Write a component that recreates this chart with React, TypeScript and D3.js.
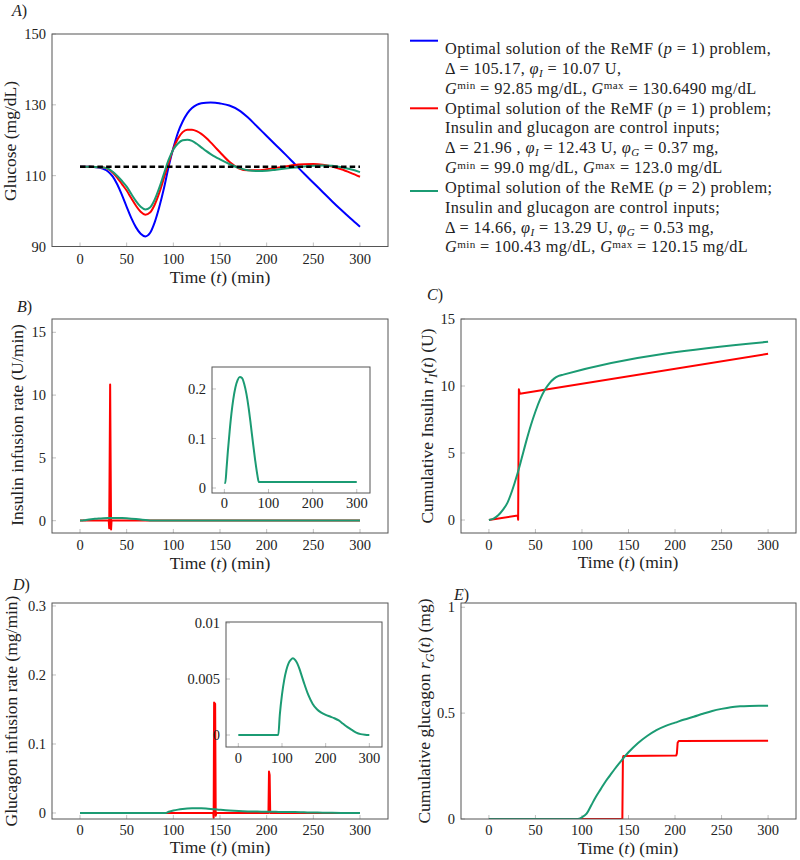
import React from 'react';
import * as d3 from 'd3';

const FONT = '"Liberation Serif", "Times New Roman", serif';
const BLUE = '#0000ff';
const RED = '#ff0000';
const GREEN = '#1b9b73';

// ---------- Panel A : glucose ----------
const timeGlucose = [0, 10, 20, 25, 30, 35, 40, 45, 50, 55, 60, 65, 70, 75, 80, 85, 90, 95, 100, 105, 110, 115, 120, 125, 130, 135, 140, 145, 150, 160, 170, 180, 190, 200, 210, 220, 230, 240, 250, 260, 270, 280, 290, 300];
const glucoseBlue = [112.5, 112.5, 112.3, 111.9, 111.2, 109.8, 107.5, 104.5, 101.2, 98.0, 95.4, 93.6, 92.85, 93.8, 96.8, 101.2, 106.5, 112.6, 117.8, 122.2, 125.3, 127.6, 129.1, 130.0, 130.45, 130.62, 130.65, 130.6, 130.4, 129.8, 128.5, 126.4, 123.8, 121.2, 118.6, 116.0, 113.3, 110.6, 108.0, 105.4, 102.8, 100.3, 97.9, 95.6];
const glucoseRed = [112.5, 112.5, 112.4, 112.3, 111.9, 110.9, 109.4, 107.6, 105.8, 103.6, 101.5, 99.8, 99.0, 99.6, 101.8, 105.2, 109.4, 113.6, 117.6, 120.5, 122.3, 123.0, 123.0, 122.6, 121.8, 120.7, 119.4, 118.0, 116.6, 113.9, 112.1, 111.5, 111.5, 111.8, 112.2, 112.6, 113.0, 113.2, 113.3, 113.1, 112.6, 111.8, 110.8, 109.7];
const glucoseGreen = [112.5, 112.5, 112.4, 112.3, 112.0, 111.1, 109.9, 108.5, 106.9, 104.8, 102.8, 101.2, 100.45, 101.0, 103.2, 106.6, 110.6, 114.5, 117.4, 119.1, 120.0, 120.15, 119.8, 119.0, 118.0, 117.0, 116.1, 115.3, 114.6, 113.3, 112.2, 111.5, 111.3, 111.4, 111.7, 112.0, 112.3, 112.6, 112.8, 112.9, 112.8, 112.4, 111.8, 111.0];
const timeReference = [0, 300];
const glucoseReference = [112.5, 112.5];

// ---------- Panel B : insulin infusion rate ----------
const timeInsulinRed = [0, 30.8, 31.3, 32.3, 33.3, 33.8, 300];
const insulinRateRed = [0.011, 0.011, -0.6, 10.85, -0.7, 0.011, 0.011];
const timeInsulinGreen = [0, 2, 5, 8, 12, 16, 20, 25, 30, 35, 40, 45, 50, 55, 60, 65, 70, 75, 78, 300];
const insulinRateGreen = [0.01, 0.01, 0.04, 0.075, 0.115, 0.15, 0.178, 0.203, 0.218, 0.224, 0.222, 0.21, 0.19, 0.162, 0.127, 0.09, 0.055, 0.025, 0.012, 0.012];

// ---------- Panel C : cumulative insulin ----------
const timeCumInsulinRed = [0, 31, 31.4, 32.2, 33.2, 300];
const cumInsulinRed = [0, 0.33, 0.02, 9.75, 9.42, 12.4];
const timeCumInsulinGreen = [0, 5, 10, 15, 20, 25, 30, 35, 40, 45, 50, 55, 60, 65, 70, 75, 80, 300];
const cumInsulinGreen = [0, 0.1, 0.35, 0.75, 1.3, 2.2, 3.3, 4.55, 5.85, 7.05, 8.1, 9.0, 9.7, 10.2, 10.55, 10.75, 10.85, 13.3];

// ---------- Panel D : glucagon infusion rate ----------
const timeGlucagonRed = [0, 142.8, 143.2, 143.7, 144.8, 145.4, 146, 201.9, 202.5, 203.2, 203.8, 300];
const glucagonRateRed = [0, 0, -0.007, 0.16, 0.158, -0.004, 0, 0, 0.06, 0.055, 0, 0];
const timeGlucagonGreen = [0, 91.5, 95, 100, 105, 110, 115, 120, 125, 130, 135, 140, 145, 150, 160, 170, 180, 190, 200, 210, 220, 230, 240, 250, 260, 270, 280, 290, 300];
const glucagonRateGreen = [0, 0, 0.0018, 0.0036, 0.0049, 0.0058, 0.0064, 0.0067, 0.00685, 0.0067, 0.0064, 0.0059, 0.0053, 0.0047, 0.0036, 0.0028, 0.0023, 0.002, 0.0018, 0.00165, 0.0015, 0.0013, 0.001, 0.0007, 0.00045, 0.00022, 0.00008, 0.00002, 0];

// ---------- Panel E : cumulative glucagon ----------
const timeCumGlucagonRed = [0, 143.4, 144.0, 144.6, 201.3, 202.0, 202.8, 204, 300];
const cumGlucagonRed = [0, 0, 0.29, 0.298, 0.3, 0.31, 0.36, 0.368, 0.369];
const timeCumGlucagonGreen = [0, 95, 100, 105, 110, 115, 120, 125, 130, 135, 140, 145, 150, 160, 170, 180, 190, 200, 210, 220, 230, 240, 250, 260, 270, 280, 290, 300];
const cumGlucagonGreen = [0, 0, 0.008, 0.025, 0.065, 0.105, 0.14, 0.175, 0.205, 0.235, 0.263, 0.29, 0.315, 0.358, 0.392, 0.42, 0.44, 0.455, 0.47, 0.483, 0.497, 0.51, 0.52, 0.528, 0.532, 0.534, 0.535, 0.535];

// ---------- ticks ----------
const timeTicks = [0, 50, 100, 150, 200, 250, 300];
const insetTimeTicks = [0, 100, 200, 300];
const glucoseTicks = [90, 110, 130, 150];
const insulinTicks = [0, 5, 10, 15];
const insetInsulinTicks = [0, 0.1, 0.2];
const glucagonTicks = [0, 0.1, 0.2, 0.3];
const insetGlucagonTicks = [0, 0.005, 0.01];
const insetGlucagonTickLabels = ['0', '0.005', '0.01'];
const cumGlucagonTicks = [0, 0.5, 1];

type Series = { t: number[]; v: number[]; color: string; width?: number; dash?: string; smooth?: boolean };

type PanelProps = {
  id: string;
  left: number; right: number; top: number; bottom: number;
  xDomain: [number, number]; yDomain: [number, number];
  xTicks: number[]; yTicks: number[]; yTickLabels?: string[];
  series: Series[];
  xLabelGap: number;
};

const TICK_FS = 14.5;
const TITLE_FS = 17.5;

function Panel(p: PanelProps) {
  const x = d3.scaleLinear().domain(p.xDomain).range([p.left, p.right]);
  const y = d3.scaleLinear().domain(p.yDomain).range([p.bottom, p.top]);
  return (
    <g>
      <defs>
        <clipPath id={`clip-${p.id}`}>
          <rect x={p.left} y={p.top} width={p.right - p.left} height={p.bottom - p.top} />
        </clipPath>
      </defs>
      <rect x={p.left} y={p.top} width={p.right - p.left} height={p.bottom - p.top} fill="#fff" />
      {p.xTicks.map((t) => (
        <line key={`xt${t}`} x1={x(t)} x2={x(t)} y1={p.bottom} y2={p.bottom - 4} stroke="#b0b0b0" strokeWidth={0.8} />
      ))}
      {p.yTicks.map((t) => (
        <line key={`yt${t}`} x1={p.left} x2={p.left + 4} y1={y(t)} y2={y(t)} stroke="#b0b0b0" strokeWidth={0.8} />
      ))}
      <g clipPath={`url(#clip-${p.id})`}>
        {p.series.map((s, i) => {
          const line = d3
            .line<number>()
            .x((_, j) => x(s.t[j]))
            .y((d) => y(d))
            .curve(s.smooth ? d3.curveMonotoneX : d3.curveLinear);
          return (
            <path
              key={i}
              d={line(s.v) || ''}
              fill="none"
              stroke={s.color}
              strokeWidth={s.width ?? 2}
              strokeDasharray={s.dash}
              strokeLinejoin="round"
            />
          );
        })}
      </g>
      <rect x={p.left} y={p.top} width={p.right - p.left} height={p.bottom - p.top} fill="none" stroke="#555" strokeWidth={1} />
      {p.xTicks.map((t) => (
        <text key={`xl${t}`} x={x(t)} y={p.bottom + p.xLabelGap} dy="0.35em" textAnchor="middle" fontSize={TICK_FS} fontFamily={FONT} fill="#222">
          {String(t)}
        </text>
      ))}
      {p.yTicks.map((t, i) => (
        <text key={`yl${t}`} x={p.left - 6} y={y(t)} dy="0.35em" textAnchor="end" fontSize={TICK_FS} fontFamily={FONT} fill="#222">
          {p.yTickLabels ? p.yTickLabels[i] : String(t)}
        </text>
      ))}
    </g>
  );
}

function TimeLabel({ x, y }: { x: number; y: number }) {
  return (
    <text x={x} y={y} dy="0.35em" textAnchor="middle" fontSize={TITLE_FS} fontFamily={FONT} fill="#222">
      <tspan>Time (</tspan>
      <tspan fontStyle="italic">t</tspan>
      <tspan>) (min)</tspan>
    </text>
  );
}

function YLabel({ x, y, children }: { x: number; y: number; children: React.ReactNode }) {
  return (
    <text transform={`translate(${x},${y}) rotate(-90)`} dy="0.35em" textAnchor="middle" fontSize={TITLE_FS} fontFamily={FONT} fill="#222">
      {children}
    </text>
  );
}

function PanelTag({ x, y, letter }: { x: number; y: number; letter: string }) {
  return (
    <text x={x} y={y} dy="0.35em" fontSize={16} fontFamily={FONT} fill="#222">
      <tspan fontStyle="italic">{letter}</tspan>
      <tspan>)</tspan>
    </text>
  );
}

type Seg = [string, 'n' | 'i' | 'sub' | 'sup'];
const legendLines: Seg[][] = [
  [['Optimal solution of the ReMF (', 'n'], ['p', 'i'], [' = 1) problem,', 'n']],
  [['Δ = 105.17, ', 'n'], ['φ', 'i'], ['I', 'sub'], [' = 10.07 U,', 'n']],
  [['G', 'i'], ['min', 'sup'], [' = 92.85 mg/dL, ', 'n'], ['G', 'i'], ['max', 'sup'], [' = 130.6490 mg/dL', 'n']],
  [['Optimal solution of the ReMF (', 'n'], ['p', 'i'], [' = 1) problem;', 'n']],
  [['Insulin and glucagon are control inputs;', 'n']],
  [['Δ = 21.96 , ', 'n'], ['φ', 'i'], ['I', 'sub'], [' = 12.43 U, ', 'n'], ['φ', 'i'], ['G', 'sub'], [' = 0.37 mg,', 'n']],
  [['G', 'i'], ['min', 'sup'], [' = 99.0 mg/dL, ', 'n'], ['G', 'i'], ['max', 'sup'], [' = 123.0 mg/dL', 'n']],
  [['Optimal solution of the ReME (', 'n'], ['p', 'i'], [' = 2) problem;', 'n']],
  [['Insulin and glucagon are control inputs;', 'n']],
  [['Δ = 14.66, ', 'n'], ['φ', 'i'], ['I', 'sub'], [' = 13.29 U, ', 'n'], ['φ', 'i'], ['G', 'sub'], [' = 0.53 mg,', 'n']],
  [['G', 'i'], ['min', 'sup'], [' = 100.43 mg/dL, ', 'n'], ['G', 'i'], ['max', 'sup'], [' = 120.15 mg/dL', 'n']],
];
const legendColors = [BLUE, RED, GREEN];
const legendLineY = [40.7, 108.3, 191];

function SegText({ segs }: { segs: Seg[] }) {
  const out: React.ReactNode[] = [];
  let shift = 0;
  segs.forEach(([txt, st], k) => {
    let target = 0;
    if (st === 'sub') target = 3;
    if (st === 'sup') target = -4.5;
    const dy = target - shift;
    shift = target;
    out.push(
      <tspan
        key={k}
        dy={dy !== 0 ? dy : undefined}
        fontStyle={st === 'i' || st === 'sub' ? 'italic' : undefined}
        fontSize={st === 'sub' || st === 'sup' ? '0.68em' : undefined}
      >
        {txt}
      </tspan>
    );
  });
  return <>{out}</>;
}

export default function App() {
  const xDom: [number, number] = [-30, 330];
  return (
    <svg width={800} height={860} style={{ position: 'absolute', left: 0, top: 0, background: '#fff' }}>
      <rect x={0} y={0} width={800} height={860} fill="#fff" />

      {/* Panel A */}
      <PanelTag x={12} y={10} letter="A" />
      <Panel
        id="A" left={52} right={388} top={34} bottom={246.5}
        xDomain={xDom} yDomain={[90, 150]}
        xTicks={timeTicks} yTicks={glucoseTicks} xLabelGap={12.5}
        series={[
          { t: timeGlucose, v: glucoseBlue, color: BLUE, smooth: true },
          { t: timeGlucose, v: glucoseRed, color: RED, smooth: true },
          { t: timeGlucose, v: glucoseGreen, color: GREEN, smooth: true },
          { t: timeReference, v: glucoseReference, color: '#000', width: 2.5, dash: '5.5,3.2' },
        ]}
      />
      <TimeLabel x={220} y={277} />
      <YLabel x={10} y={141}>Glucose (mg/dL)</YLabel>

      {/* Legend */}
      {legendColors.map((c, i) => (
        <line key={c} x1={410} x2={438} y1={legendLineY[i]} y2={legendLineY[i]} stroke={c} strokeWidth={2} />
      ))}
      {legendLines.map((segs, i) => (
        <text key={i} x={445} y={48.3 + i * 19.84} dy="0.35em" fontSize={16.3} letterSpacing={0.4} fontFamily={FONT} fill="#222">
          <SegText segs={segs} />
        </text>
      ))}

      {/* Panel B */}
      <PanelTag x={17} y={306} letter="B" />
      <Panel
        id="B" left={52} right={388} top={319} bottom={533}
        xDomain={xDom} yDomain={[-0.98, 16.06]}
        xTicks={timeTicks} yTicks={insulinTicks} xLabelGap={12}
        series={[
          { t: timeInsulinRed, v: insulinRateRed, color: RED },
          { t: timeInsulinGreen, v: insulinRateGreen, color: GREEN, smooth: true },
        ]}
      />
      <Panel
        id="Bi" left={212} right={370} top={367} bottom={493}
        xDomain={[-28, 330]} yDomain={[-0.0101, 0.2444]}
        xTicks={insetTimeTicks} yTicks={insetInsulinTicks} xLabelGap={10}
        series={[{ t: timeInsulinGreen, v: insulinRateGreen, color: GREEN, smooth: true }]}
      />
      <TimeLabel x={220} y={563} />
      <YLabel x={17} y={425}>Insulin infusion rate (U/min)</YLabel>

      {/* Panel C */}
      <PanelTag x={427} y={294} letter="C" />
      <Panel
        id="C" left={461} right={796} top={319} bottom={533}
        xDomain={xDom} yDomain={[-0.97, 15]}
        xTicks={timeTicks} yTicks={insulinTicks} xLabelGap={12}
        series={[
          { t: timeCumInsulinRed, v: cumInsulinRed, color: RED },
          { t: timeCumInsulinGreen, v: cumInsulinGreen, color: GREEN, smooth: true },
        ]}
      />
      <TimeLabel x={628} y={562} />
      <YLabel x={427} y={426}>
        <tspan>Cumulative Insulin </tspan>
        <tspan fontStyle="italic">r</tspan>
        <tspan fontStyle="italic" fontSize="0.7em" dy={4}>I</tspan>
        <tspan dy={-4}>(</tspan>
        <tspan fontStyle="italic">t</tspan>
        <tspan>) (U)</tspan>
      </YLabel>

      {/* Panel D */}
      <PanelTag x={13} y={584} letter="D" />
      <Panel
        id="D" left={52} right={388} top={603} bottom={819}
        xDomain={xDom} yDomain={[-0.0087, 0.3043]}
        xTicks={timeTicks} yTicks={glucagonTicks} xLabelGap={10.5}
        series={[
          { t: timeGlucagonRed, v: glucagonRateRed, color: RED },
          { t: timeGlucagonGreen, v: glucagonRateGreen, color: GREEN, smooth: true },
        ]}
      />
      <Panel
        id="Di" left={226} right={382} top={622} bottom={747}
        xDomain={[-28.2, 329]} yDomain={[-0.00107, 0.01009]}
        xTicks={insetTimeTicks} yTicks={insetGlucagonTicks} yTickLabels={insetGlucagonTickLabels} xLabelGap={11}
        series={[{ t: timeGlucagonGreen, v: glucagonRateGreen, color: GREEN, smooth: true }]}
      />
      <TimeLabel x={220} y={847} />
      <YLabel x={11} y={711}>Glucagon infusion rate (mg/min)</YLabel>

      {/* Panel E */}
      <PanelTag x={454} y={594} letter="E" />
      <Panel
        id="E" left={461} right={796} top={603} bottom={819}
        xDomain={xDom} yDomain={[0, 1.02]}
        xTicks={timeTicks} yTicks={cumGlucagonTicks} xLabelGap={11}
        series={[
          { t: timeCumGlucagonRed, v: cumGlucagonRed, color: RED },
          { t: timeCumGlucagonGreen, v: cumGlucagonGreen, color: GREEN, smooth: true },
        ]}
      />
      <TimeLabel x={628} y={848} />
      <YLabel x={424} y={711}>
        <tspan>Cumulative glucagon </tspan>
        <tspan fontStyle="italic">r</tspan>
        <tspan fontStyle="italic" fontSize="0.7em" dy={4}>G</tspan>
        <tspan dy={-4}>(</tspan>
        <tspan fontStyle="italic">t</tspan>
        <tspan>) (mg)</tspan>
      </YLabel>
    </svg>
  );
}
